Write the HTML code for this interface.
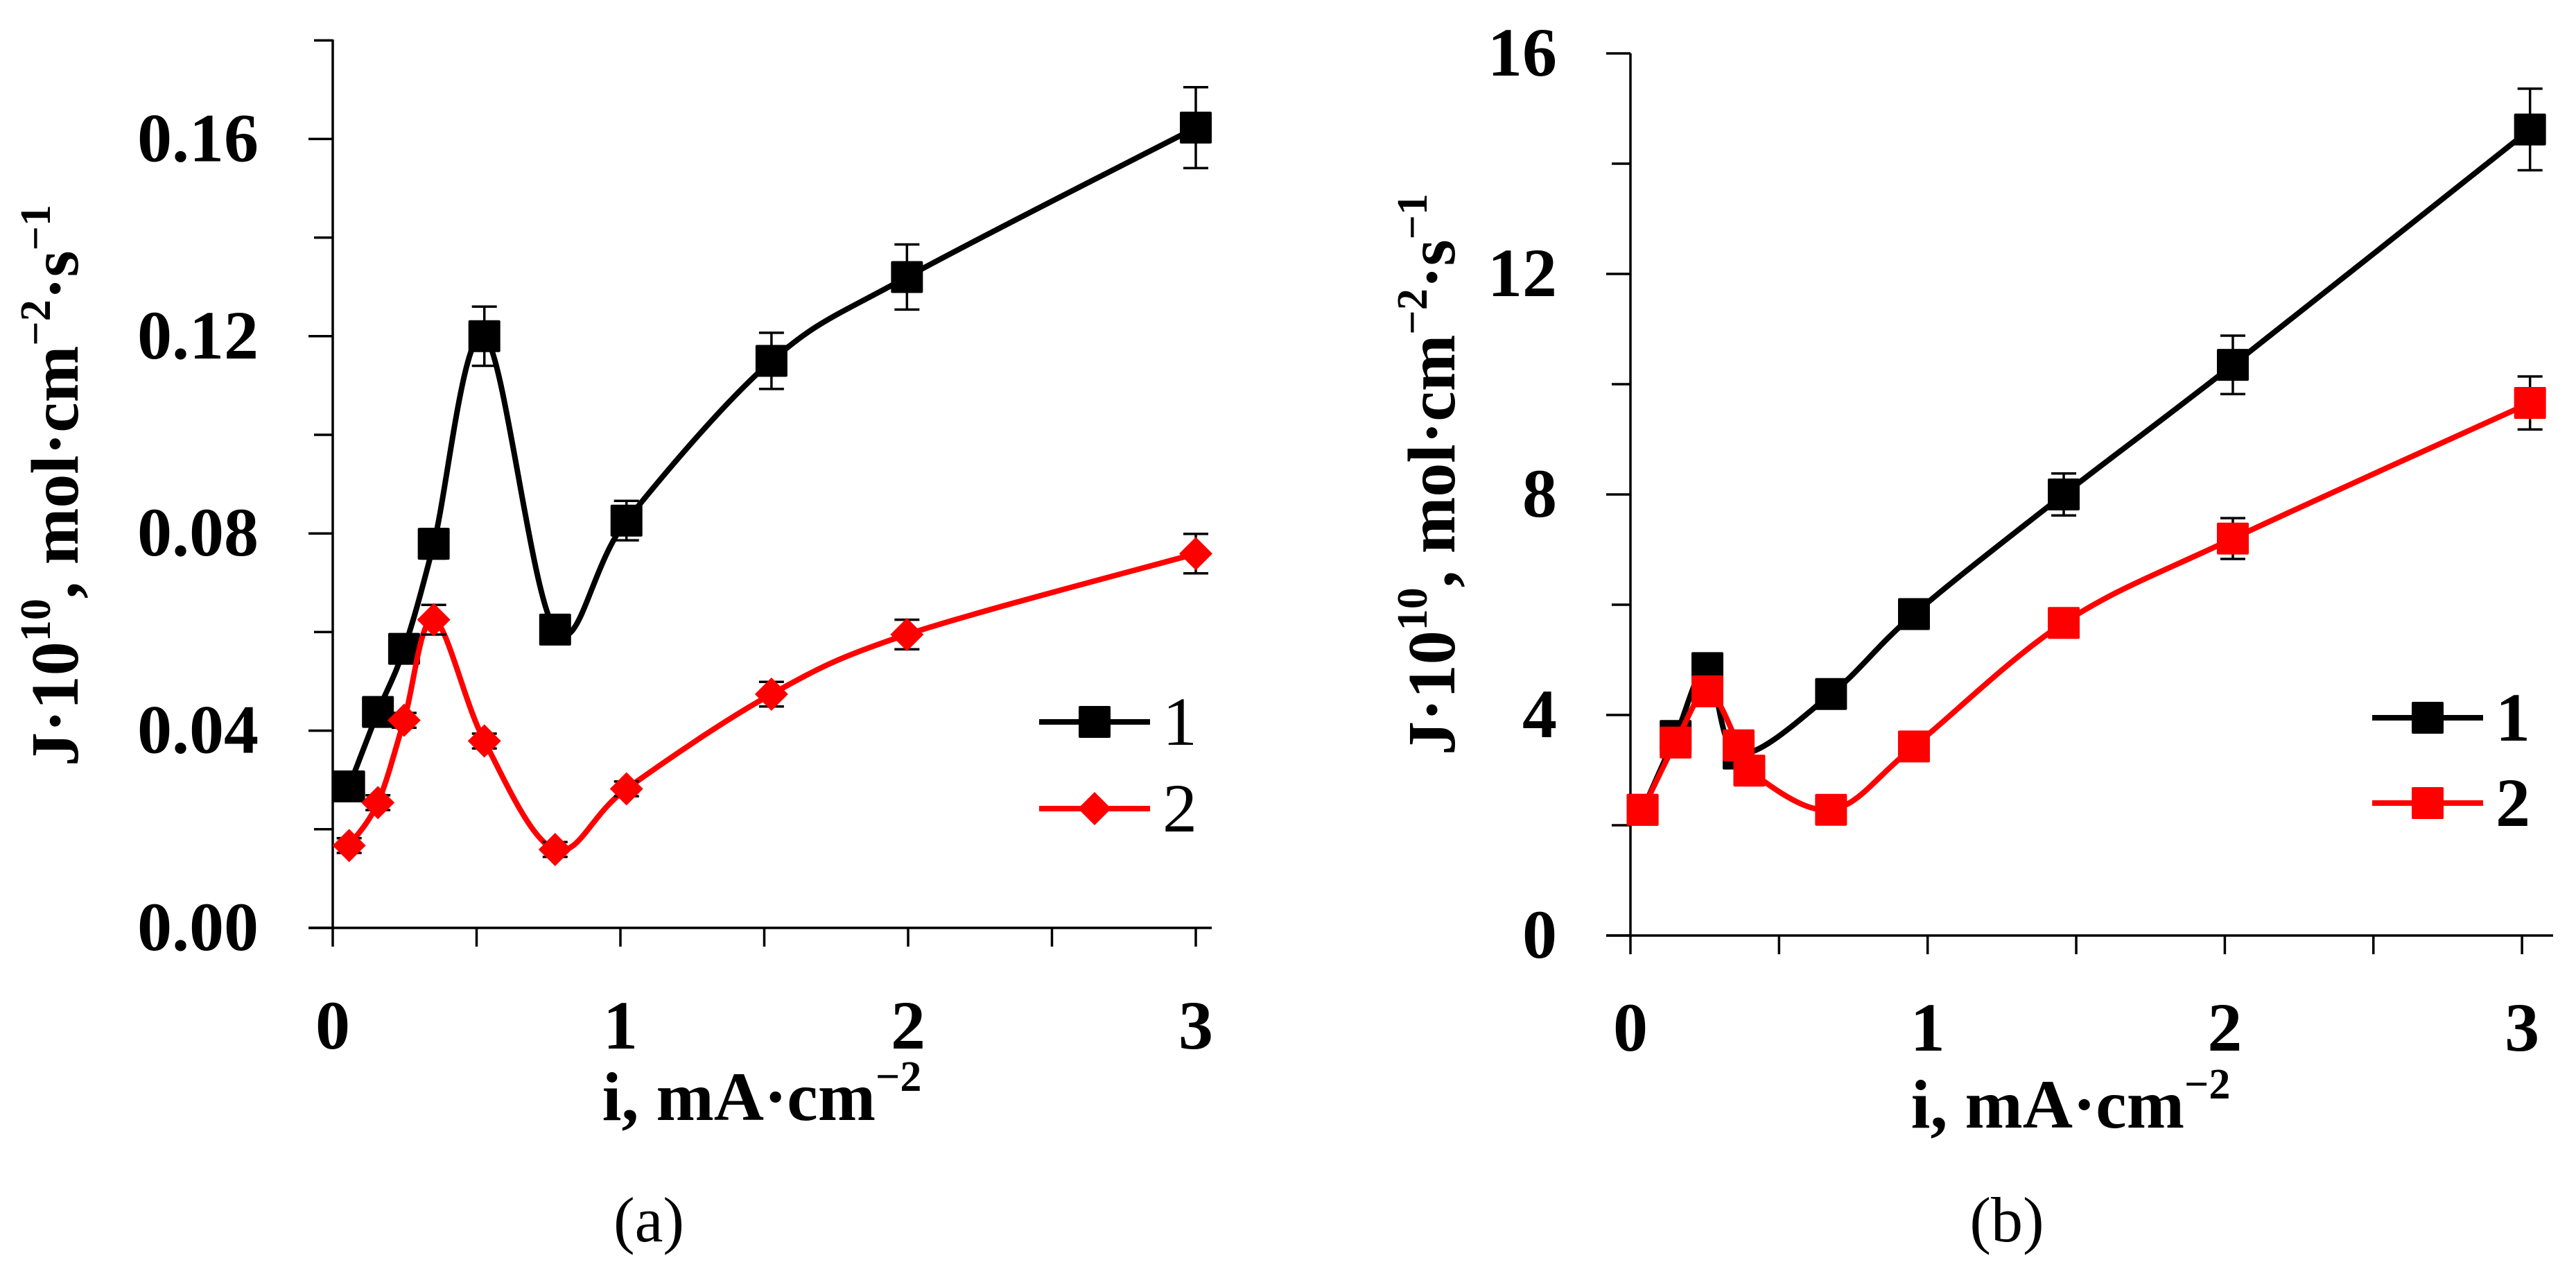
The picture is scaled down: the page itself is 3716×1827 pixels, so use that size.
<!DOCTYPE html>
<html><head><meta charset="utf-8"><style>
html,body{margin:0;padding:0;background:#fff}
svg{display:block}
text{font-family:"Liberation Serif",serif}
</style></head><body>
<svg id="chart" width="3716" height="1827" viewBox="0 0 3716 1827" xmlns="http://www.w3.org/2000/svg"></svg>
<script>
// Panel (a) data
const aX1 = [0.057,0.157,0.248,0.351,0.527,0.773,1.021,1.525,1.996,3.0];
const aY1 = [0.0287,0.0438,0.0566,0.0779,0.120,0.0605,0.0826,0.115,0.132,0.1623];
const aE1 = [0.002,0.002,0.002,0.003,0.006,0.002,0.004,0.0057,0.0066,0.0082];
const aX2 = [0.057,0.157,0.248,0.351,0.527,0.773,1.021,1.525,1.996,3.0];
const aY2 = [0.0167,0.0254,0.0421,0.0625,0.0379,0.0159,0.0282,0.0474,0.0595,0.0759];
const aE2 = [0.0015,0.0015,0.0015,0.003,0.0015,0.0015,0.0015,0.0025,0.003,0.004];
const aYTicks = [0,0.04,0.08,0.12,0.16];
const aYTickLabels = ["0.00","0.04","0.08","0.12","0.16"];
// Panel (b) data
const bX1 = [0.041,0.152,0.259,0.364,0.675,0.954,1.458,2.027,3.027];
const bY1 = [2.28,3.62,4.85,3.3,4.38,5.83,8.0,10.35,14.62];
const bE1 = [0.1,0.1,0.15,0.1,0.12,0.15,0.38,0.53,0.74];
const bX2 = [0.041,0.152,0.259,0.364,0.40,0.675,0.954,1.458,2.027,3.027];
const bY2 = [2.28,3.5,4.43,3.45,2.99,2.28,3.43,5.67,7.2,9.66];
const bE2 = [0.1,0.1,0.15,0.1,0.1,0.1,0.12,0.2,0.37,0.48];
const bYTicks = [0,4,8,12,16];
const bYTickLabels = ["0","4","8","12","16"];
const xTicks = [0,1,2,3];
const xTickLabels = ["0","1","2","3"];

const NS="http://www.w3.org/2000/svg";
const svg=document.getElementById('chart');
function mk(tag,attrs,parent){const e=document.createElementNS(NS,tag);for(const k in attrs)e.setAttribute(k,attrs[k]);(parent||svg).appendChild(e);return e;}

function smoothPath(pts){
  let d=`M${pts[0][0]},${pts[0][1]}`;
  for(let i=0;i<pts.length-1;i++){
    const p0=pts[Math.max(0,i-1)],p1=pts[i],p2=pts[i+1],p3=pts[Math.min(pts.length-1,i+2)];
    const c1x=p1[0]+(p2[0]-p0[0])/6,c1y=p1[1]+(p2[1]-p0[1])/6;
    const c2x=p2[0]-(p3[0]-p1[0])/6,c2y=p2[1]-(p3[1]-p1[1])/6;
    d+=` C${c1x},${c1y} ${c2x},${c2y} ${p2[0]},${p2[1]}`;
  }
  return d;
}

function drawPanel(cfg){
  const g=mk('g',{});
  
  
  const sx=v=>cfg.x0+v*cfg.xu;
  const sy=v=>cfg.y0-(v-cfg.ymin)*cfg.yu;
  const ya=mk('line',{x1:cfg.x0,y1:cfg.yTop,x2:cfg.x0,y2:cfg.y0+27,stroke:'#000','stroke-width':3.5},g);
  
  
  const xa=mk('line',{x1:cfg.x0-35,y1:cfg.y0,x2:cfg.xEnd,y2:cfg.y0,stroke:'#000','stroke-width':3.5},g);
  
  
  for(let i=0;i<cfg.yTicks.length;i++){
    const v=cfg.yTicks[i];
    const t=mk('line',{x1:cfg.x0-35,y1:sy(v),x2:cfg.x0,y2:sy(v),stroke:'#000','stroke-width':3.5},g);
    
    
    const l=mk('text',{x:cfg.labelRight,y:sy(v)+32,'text-anchor':'end','font-size':100,'font-weight':'bold'},g);
    l.textContent=cfg.yTickLabels[i];
    
    
    const mv=v+cfg.minor;
    if(sy(mv)>=cfg.yTop-1){
      const m=mk('line',{x1:cfg.x0-27,y1:sy(mv),x2:cfg.x0,y2:sy(mv),stroke:'#000','stroke-width':3.5},g);
      
      
    }
  }
  for(let v=0.5;v<=3.01;v+=0.5){
    const t=mk('line',{x1:sx(v),y1:cfg.y0,x2:sx(v),y2:cfg.y0+27,stroke:'#000','stroke-width':3.5},g);
    
    
  }
  for(let i=0;i<xTicks.length;i++){
    const l=mk('text',{x:sx(xTicks[i]),y:cfg.xLabelY,'text-anchor':'middle','font-size':100,'font-weight':'bold'},g);
    l.textContent=xTickLabels[i];
    
    
  }
  const xt=mk('text',{x:cfg.xTitleX,y:cfg.xTitleY,'text-anchor':'middle','font-size':100,'font-weight':'bold'},g);
  xt.innerHTML='i, mA·cm<tspan font-size="62" dy="-42">−2</tspan>';
  
  
  const yt=mk('text',{x:0,y:0,'text-anchor':'middle','font-size':98,'font-weight':'bold',transform:`translate(${cfg.yTitleX},${cfg.yTitleY}) rotate(-90)`},g);
  yt.innerHTML='J·10<tspan font-size="62" dy="-40">10</tspan><tspan dy="40">, mol·cm</tspan><tspan font-size="62" dy="-40">−2</tspan><tspan dy="40">·s</tspan><tspan font-size="62" dy="-40">−1</tspan>';
  
  
  const cap=mk('text',{x:cfg.capX,y:1790,'text-anchor':'middle','font-size':92},g);
  cap.textContent='('+cfg.cap+')';
  
  
  cfg.series.forEach((s,si)=>{
    const sg=mk('g',{},g);
    
    
    const pts=s.x.map((v,i)=>[sx(v),sy(s.y[i])]);
    const p=mk('path',{d:smoothPath(pts),fill:'none',stroke:s.color,'stroke-width':8,'stroke-linejoin':'round'},sg);
    
    
    s.x.forEach((v,i)=>{
      const x=sx(v),yt2=sy(s.y[i]+s.e[i]),yb=sy(s.y[i]-s.e[i]);
      const eb=mk('path',{d:`M${x},${yt2}V${yb}M${x-18},${yt2}H${x+18}M${x-18},${yb}H${x+18}`,stroke:'#000','stroke-width':3.5,fill:'none'},sg);
      
      
    });
    s.x.forEach((v,i)=>{
      const x=sx(v),y=sy(s.y[i]);
      let m;
      if(s.marker==='diamond') m=mk('path',{d:`M${x},${y-24}L${x+24},${y}L${x},${y+24}L${x-24},${y}Z`,fill:s.color},sg);
      else m=mk('rect',{x:x-23,y:y-23,width:46,height:46,fill:s.color,rx:2},sg);
      
      
    });
    const ly=cfg.legY[si];
    const lg=mk('g',{},g);
    
    
    mk('line',{x1:cfg.legX1,y1:ly,x2:cfg.legX2,y2:ly,stroke:s.color,'stroke-width':8},lg);
    const mx=(cfg.legX1+cfg.legX2)/2;
    if(s.marker==='diamond') mk('path',{d:`M${mx},${ly-24}L${mx+24},${ly}L${mx},${ly+24}L${mx-24},${ly}Z`,fill:s.color},lg);
    else mk('rect',{x:mx-23,y:ly-23,width:46,height:46,fill:s.color,rx:2},lg);
    const lt=mk('text',{x:cfg.legX2+18,y:ly+33,'font-size':100,'font-weight':cfg.legBold?'bold':'normal'},lg);
    lt.textContent=String(si+1);
  });
}

drawPanel({name:'panel-a',x0:480,xu:415,xEnd:1748,y0:1338,yu:7110,ymin:0,yTop:57,minor:0.02,
  yTicks:aYTicks,yTickLabels:aYTickLabels,labelRight:373,xLabelY:1512,
  xTitleX:1099,xTitleY:1615,yTitleX:112,yTitleY:700,capX:936,cap:'a',
  legX1:1499,legX2:1659,legY:[1041,1166],legBold:false,
  series:[{x:aX1,y:aY1,e:aE1,color:'#000',marker:'square'},{x:aX2,y:aY2,e:aE2,color:'#ff0000',marker:'diamond'}]});
drawPanel({name:'panel-b',x0:2352,xu:428.7,xEnd:3683,y0:1349,yu:79.5,ymin:0,yTop:77,minor:2,
  yTicks:bYTicks,yTickLabels:bYTickLabels,labelRight:2246,xLabelY:1515,
  xTitleX:2987,xTitleY:1626,yTitleX:2098,yTitleY:684,capX:2895,cap:'b',
  legX1:3422,legX2:3582,legY:[1035,1158],legBold:true,
  series:[{x:bX1,y:bY1,e:bE1,color:'#000',marker:'square'},{x:bX2,y:bY2,e:bE2,color:'#ff0000',marker:'square'}]});
</script>
</body></html>
